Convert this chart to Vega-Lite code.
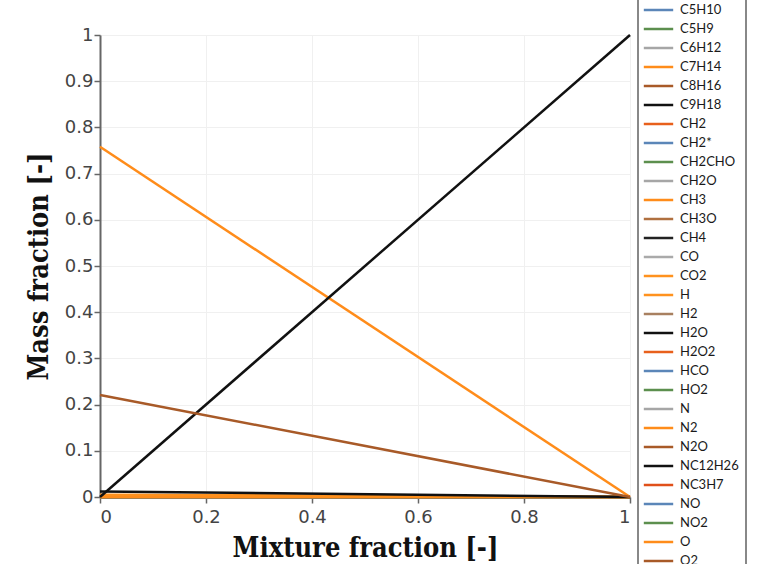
{
  "$schema": "https://vega.github.io/schema/vega-lite/v6.json",
  "autosize": {"type": "none"},
  "width": 530,
  "height": 462,
  "padding": {"left": 100, "top": 35, "right": 138, "bottom": 67},
  "background": "white",
  "data": {"values": [
    {"species": "C5H10", "z": 0, "Y": 0}, {"species": "C5H10", "z": 1, "Y": 0},
    {"species": "C5H9", "z": 0, "Y": 0}, {"species": "C5H9", "z": 1, "Y": 0},
    {"species": "C6H12", "z": 0, "Y": 0}, {"species": "C6H12", "z": 1, "Y": 0},
    {"species": "C7H14", "z": 0, "Y": 0}, {"species": "C7H14", "z": 1, "Y": 0},
    {"species": "C8H16", "z": 0, "Y": 0}, {"species": "C8H16", "z": 1, "Y": 0},
    {"species": "C9H18", "z": 0, "Y": 0}, {"species": "C9H18", "z": 1, "Y": 0},
    {"species": "CH2", "z": 0, "Y": 0}, {"species": "CH2", "z": 1, "Y": 0},
    {"species": "CH2*", "z": 0, "Y": 0}, {"species": "CH2*", "z": 1, "Y": 0},
    {"species": "CH2CHO", "z": 0, "Y": 0}, {"species": "CH2CHO", "z": 1, "Y": 0},
    {"species": "CH2O", "z": 0, "Y": 0}, {"species": "CH2O", "z": 1, "Y": 0},
    {"species": "CH3", "z": 0, "Y": 0}, {"species": "CH3", "z": 1, "Y": 0},
    {"species": "CH3O", "z": 0, "Y": 0}, {"species": "CH3O", "z": 1, "Y": 0},
    {"species": "CH4", "z": 0, "Y": 0}, {"species": "CH4", "z": 1, "Y": 0},
    {"species": "CO", "z": 0, "Y": 0}, {"species": "CO", "z": 1, "Y": 0},
    {"species": "H", "z": 0, "Y": 0}, {"species": "H", "z": 1, "Y": 0},
    {"species": "H2", "z": 0, "Y": 0}, {"species": "H2", "z": 1, "Y": 0},
    {"species": "H2O2", "z": 0, "Y": 0}, {"species": "H2O2", "z": 1, "Y": 0},
    {"species": "HCO", "z": 0, "Y": 0}, {"species": "HCO", "z": 1, "Y": 0},
    {"species": "HO2", "z": 0, "Y": 0}, {"species": "HO2", "z": 1, "Y": 0},
    {"species": "N", "z": 0, "Y": 0}, {"species": "N", "z": 1, "Y": 0},
    {"species": "N2O", "z": 0, "Y": 0}, {"species": "N2O", "z": 1, "Y": 0},
    {"species": "NC3H7", "z": 0, "Y": 0}, {"species": "NC3H7", "z": 1, "Y": 0},
    {"species": "NO", "z": 0, "Y": 0}, {"species": "NO", "z": 1, "Y": 0},
    {"species": "NO2", "z": 0, "Y": 0}, {"species": "NO2", "z": 1, "Y": 0},
    {"species": "O", "z": 0, "Y": 0}, {"species": "O", "z": 1, "Y": 0},
    {"species": "CO2", "z": 0, "Y": 0.005}, {"species": "CO2", "z": 1, "Y": 0},
    {"species": "H2O", "z": 0, "Y": 0.012}, {"species": "H2O", "z": 1, "Y": 0},
    {"species": "N2", "z": 0, "Y": 0.758}, {"species": "N2", "z": 1, "Y": 0},
    {"species": "NC12H26", "z": 0, "Y": 0}, {"species": "NC12H26", "z": 1, "Y": 1},
    {"species": "O2", "z": 0, "Y": 0.221}, {"species": "O2", "z": 1, "Y": 0}
  ]},
  "mark": {"type": "line", "strokeWidth": 2.5},
  "encoding": {
    "x": {
      "field": "z", "type": "quantitative",
      "scale": {"domain": [0, 1], "nice": false},
      "axis": {"values": [0, 0.2, 0.4, 0.6, 0.8, 1], "format": "~g", "title": "Mixture fraction [-]", "titlePadding": 9, "labelPadding": 5}
    },
    "y": {
      "field": "Y", "type": "quantitative",
      "scale": {"domain": [0, 1], "nice": false},
      "axis": {"values": [0, 0.1, 0.2, 0.3, 0.4, 0.5, 0.6, 0.7, 0.8, 0.9, 1], "format": "~g", "title": "Mass fraction [-]", "titlePadding": 11, "labelPadding": 1}
    },
    "color": {
      "field": "species", "type": "nominal",
      "scale": {
        "domain": ["C5H10", "C5H9", "C6H12", "C7H14", "C8H16", "C9H18", "CH2", "CH2*", "CH2CHO", "CH2O", "CH3", "CH3O", "CH4", "CO", "CO2", "H", "H2", "H2O", "H2O2", "HCO", "HO2", "N", "N2", "N2O", "NC12H26", "NC3H7", "NO", "NO2", "O", "O2"],
        "range": ["#5b86b8", "#5c8f4e", "#a6a6a6", "#ff8c1a", "#a85a28", "#111111", "#e8601c", "#5b86b8", "#5c8f4e", "#a6a6a6", "#ff8c1a", "#b07040", "#222222", "#aaaaaa", "#ff921e", "#ff921e", "#a88060", "#111111", "#e8601c", "#5b86b8", "#5c8f4e", "#a6a6a6", "#ff8c1a", "#a85a28", "#111111", "#e0501a", "#5b86b8", "#5c8f4e", "#ff8c1a", "#a85a28"]
      },
      "legend": {
        "orient": "none", "legendX": 538, "legendY": -40.5, "title": null,
        "labelExpr": "datum.label + '\u00a0\u00a0\u00a0\u00a0\u00a0\u00a0\u00a0\u00a0\u00a0\u00a0\u00a0\u00a0\u00a0\u00a0\u00a0\u00a0\u00a0\u00a0\u00a0\u00a0\u00a0\u00a0\u00a0\u00a0\u00a0\u00a0\u00a0\u00a0\u00a0\u00a0'"
      }
    }
  },
  "config": {
    "view": {"stroke": null},
    "axis": {
      "labelFont": "DejaVu Sans", "labelFontSize": 18, "labelColor": "#444",
      "titleFont": "DejaVu Serif Condensed", "titleFontSize": 27, "titleFontWeight": "bold", "titleColor": "#111",
      "domainColor": "#666", "domainWidth": 2, "tickColor": "#666", "tickSize": 6, "tickWidth": 1.5,
      "gridColor": "#f0f0f0", "gridWidth": 1
    },
    "legend": {
      "symbolType": "M-2.1,0H2.1", "symbolSize": 196, "symbolStrokeWidth": 2.5, "symbolOffset": 5,
      "labelFont": "Lato", "labelFontSize": 13, "labelColor": "#1a1a1a", "labelOffset": 13,
      "padding": 7, "rowPadding": 3, "strokeColor": "#888", "strokeWidth": 2,
      "symbolLimit": 0, "labelLimit": 0
    }
  }
}
